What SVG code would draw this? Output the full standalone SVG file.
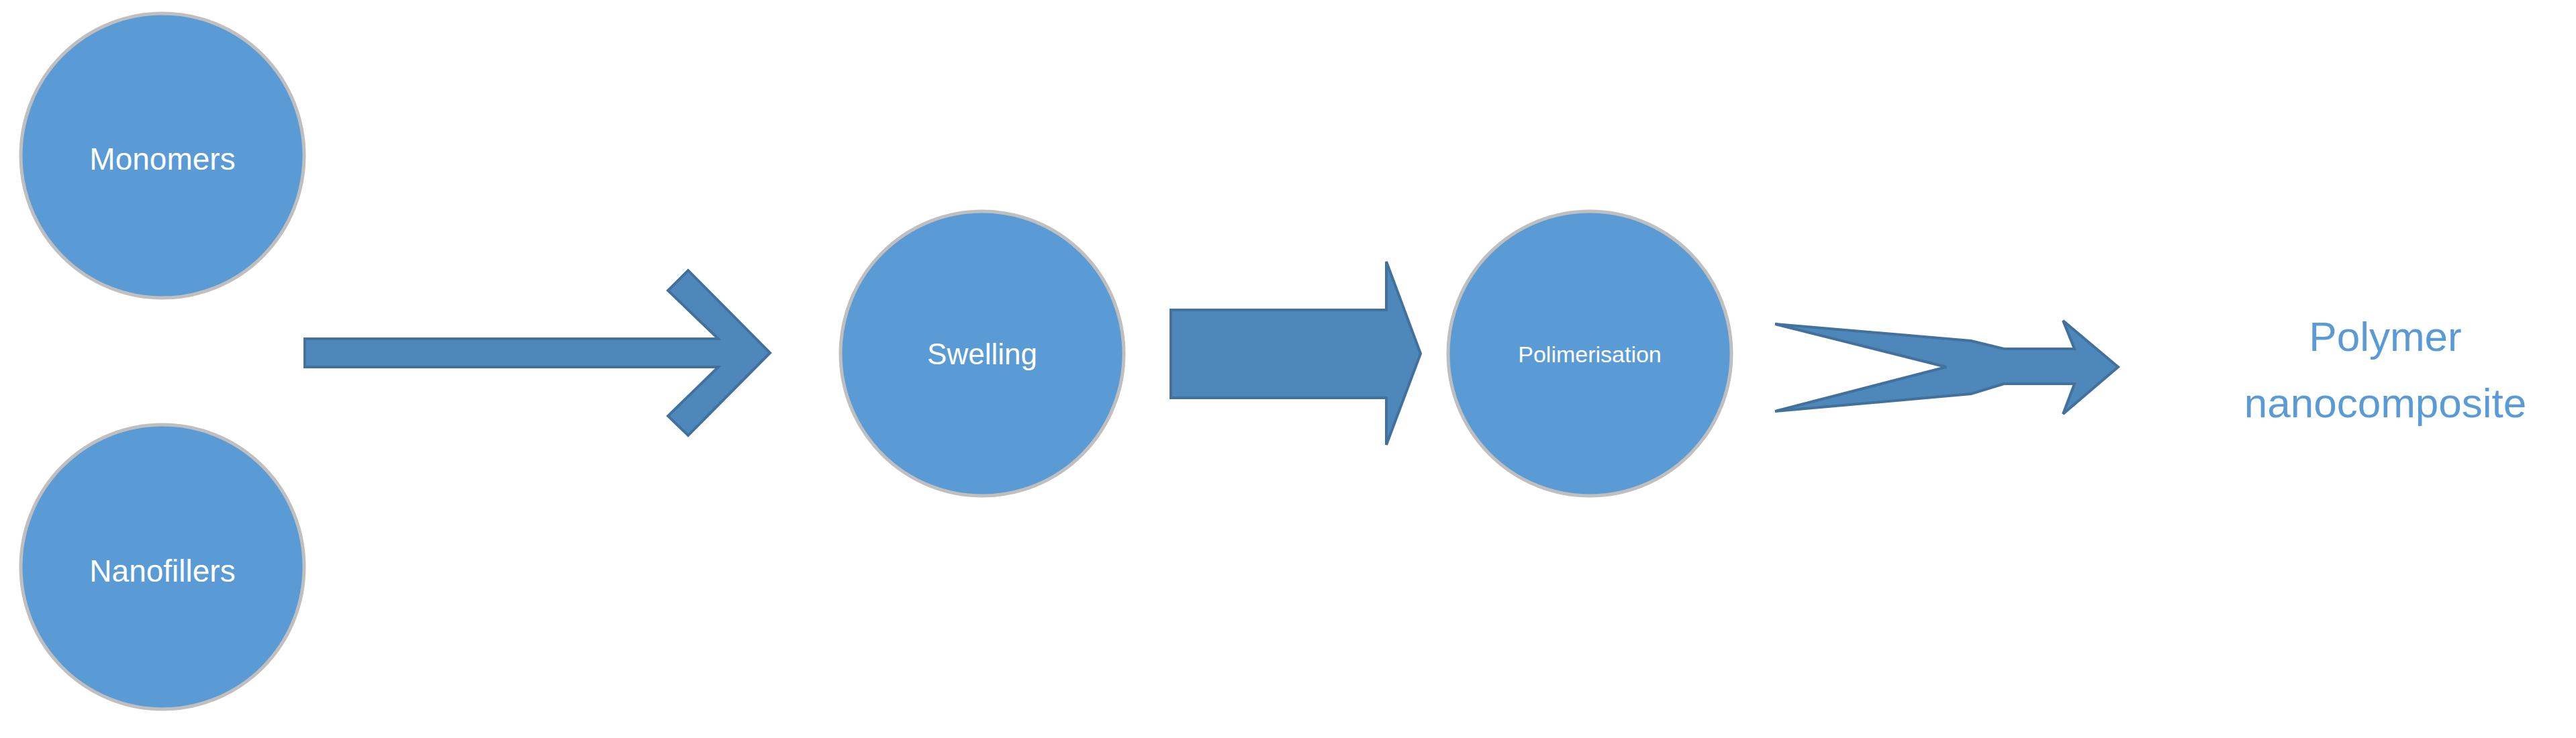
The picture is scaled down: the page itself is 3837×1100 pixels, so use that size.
<svg xmlns="http://www.w3.org/2000/svg" width="3837" height="1100" viewBox="0 0 3837 1100">
<style>
.n{fill:#5b9bd5;stroke:#bfbfbf;stroke-width:5}
.t{font-family:"Liberation Sans",Arial,sans-serif;fill:#fff;text-anchor:middle}
.a{fill:#4e87b9;stroke:#41719c;stroke-width:4}
</style>
<rect width="3837" height="1100" fill="#fff"/>
<g id="monomers"><ellipse class="n" cx="242" cy="232" rx="211" ry="212"/><text class="t" x="242" y="253" font-size="46">Monomers</text></g>
<g id="nanofillers"><ellipse class="n" cx="242" cy="845" rx="211" ry="212"/><text class="t" x="242" y="867" font-size="46">Nanofillers</text></g>
<g id="swelling"><ellipse class="n" cx="1463" cy="527" rx="211" ry="212"/><text class="t" x="1463" y="543" font-size="44">Swelling</text></g>
<g id="polimerisation"><ellipse class="n" cx="2368" cy="527" rx="211" ry="212"/><text class="t" x="2368" y="540" font-size="34">Polimerisation</text></g>
<g id="product"><text x="3553" y="523" font-size="62" font-family="Liberation Sans,Arial,sans-serif" fill="#5b9bd5" text-anchor="middle">Polymer</text><text x="3553" y="622" font-size="62" font-family="Liberation Sans,Arial,sans-serif" fill="#5b9bd5" text-anchor="middle">nanocomposite</text></g>
<g id="connectors">
<polygon class="a" points="454,505 1070,505 995,433 1025,403 1147,526 1025,649 995,620 1070,547 454,547"/>
<polygon class="a" points="1744,462 2065,462 2065,390 2116,527 2065,663 2065,593 1744,593"/>
<polygon class="a" points="2644,483 2936,508 2985,520 3090,520 3073,478 3155,547 3073,617 3090,572 2985,572 2936,587 2644,613 2899,547"/>
</g>
</svg>
